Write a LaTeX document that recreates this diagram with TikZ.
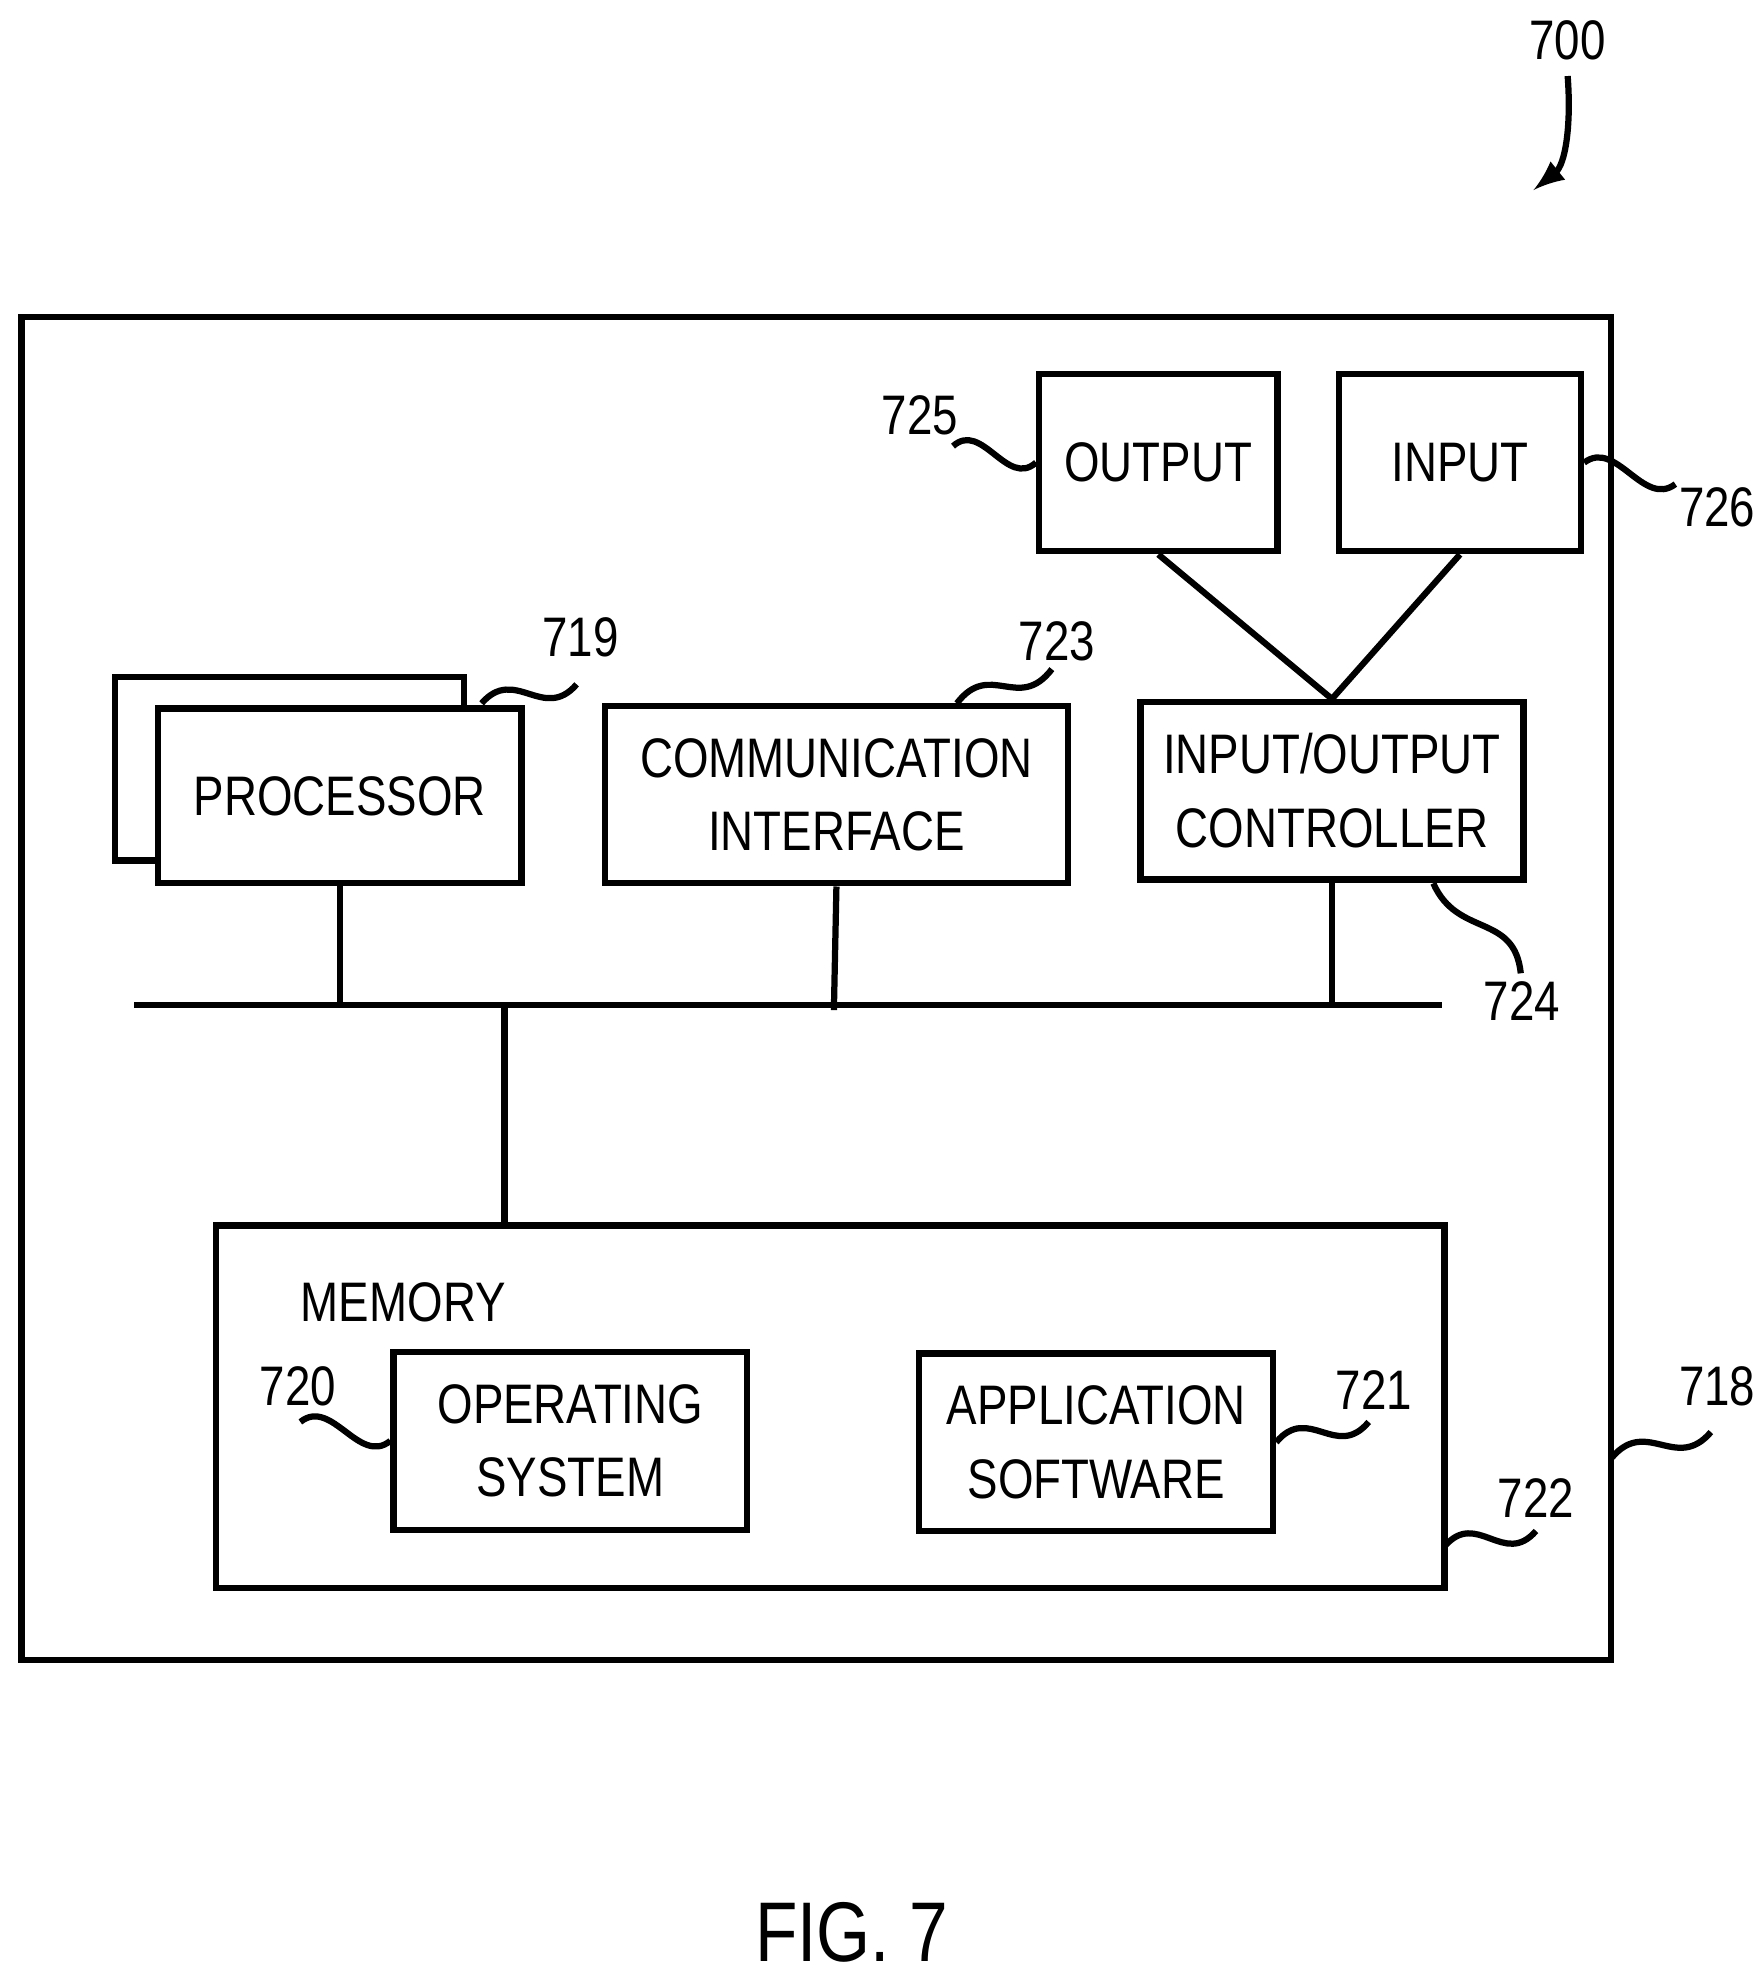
\documentclass[tikz,border=0pt]{standalone}
\usepackage{fontspec}
\setmainfont{Liberation Sans}[FakeStretch=0.82]
\usetikzlibrary{calc}
\tikzset{
  blk/.style={draw, line width=1.4pt, align=center, inner sep=0pt, font=\fontsize{12.5}{16.5}\selectfont},
  lbl/.style={font=\fontsize{12.5}{16}\selectfont},
  wire/.style={line width=1.4pt},
}
\newcommand\squig[2]{\draw[wire] (#1) .. controls ($(#1)!0.35!(#2)+(0,-25)$) and ($(#1)!0.65!(#2)+(0,25)$) .. (#2);}
\begin{document}
\begin{tikzpicture}[x=0.01cm,y=-0.01cm]
\useasboundingbox (0,0) rectangle (1390,1560);
\draw[wire] (17,250) rectangle (1271,1310);
% top devices
\node[blk, minimum width=1.88cm, minimum height=1.4cm] (out) at (914,365) {OUTPUT};
\node[blk, minimum width=1.91cm, minimum height=1.4cm] (in) at (1152,365) {INPUT};
\node[blk, minimum width=3.02cm, minimum height=1.4cm] (ioc) at (1051,624) {INPUT/OUTPUT\\CONTROLLER};
\draw[wire] (out.south) -- (ioc.north);
\draw[wire] (in.south) -- (ioc.north);
% processor and interface
\draw[wire, fill=white] (91,534) rectangle (366,679);
\node[blk, fill=white, minimum width=2.87cm, minimum height=1.38cm] (proc) at (268,628) {PROCESSOR};
\node[blk, minimum width=3.65cm, minimum height=1.4cm] (comm) at (660,627) {COMMUNICATION\\INTERFACE};
% bus
\coordinate (busL) at (106,793);
\coordinate (busR) at (1138,793);
\draw[wire] (busL) -- (busR);
\draw[wire] (proc.south) -- (proc.south |- busL);
\draw[wire] (comm.south) -- (658,797);
\draw[wire] (ioc.south) -- (ioc.south |- busL);
% memory
\node[draw, line width=1.4pt, minimum width=9.69cm, minimum height=2.86cm] (mem) at (655,1110) {};
\draw[wire] (398,793) -- (mem.north -| 398,0);
\node[lbl, anchor=west] at (225,1028) {MEMORY};
\node[blk, minimum width=2.79cm, minimum height=1.4cm] (os) at (450,1137) {OPERATING\\SYSTEM};
\node[blk, minimum width=2.79cm, minimum height=1.4cm] (app) at (865,1138) {APPLICATION\\SOFTWARE};
% reference numerals
\node[lbl] (n700) at (1237,32) {700};
\node[lbl] (n725) at (726,328) {725};
\node[lbl] (n726) at (1355,400) {726};
\node[lbl] (n719) at (458,503) {719};
\node[lbl] (n723) at (834,506) {723};
\node[lbl] (n724) at (1201,790) {724};
\node[lbl] (n720) at (235,1094) {720};
\node[lbl] (n721) at (1084,1097) {721};
\node[lbl] (n722) at (1212,1182) {722};
\node[lbl] (n718) at (1355,1094) {718};
\draw[wire, -latex] (n700.south) .. controls (1240,100) and (1235,130) .. (1210,150);
\coordinate (c725) at (752,352); \squig{c725}{out.west}
\coordinate (c726) at (1322,382); \squig{in.east}{c726}
\coordinate (c719) at (455,540); \squig{380,555}{c719}
\coordinate (c723) at (830,528); \squig{755,555}{c723}
\coordinate (c724) at (1200,768);
\draw[wire] (1131,697) .. controls (1150,740) and (1195,720) .. (c724);
\coordinate (c720) at (237,1122); \squig{c720}{os.west}
\coordinate (c721) at (1080,1122); \squig{app.east}{c721}
\coordinate (c722) at (1212,1208); \squig{1140,1220}{c722}
\coordinate (c718) at (1350,1130); \squig{1272,1150}{c718}
\node[font=\fontsize{19}{23}\selectfont] (fig) at (672,1525) {FIG. 7};
\end{tikzpicture}
\end{document}
